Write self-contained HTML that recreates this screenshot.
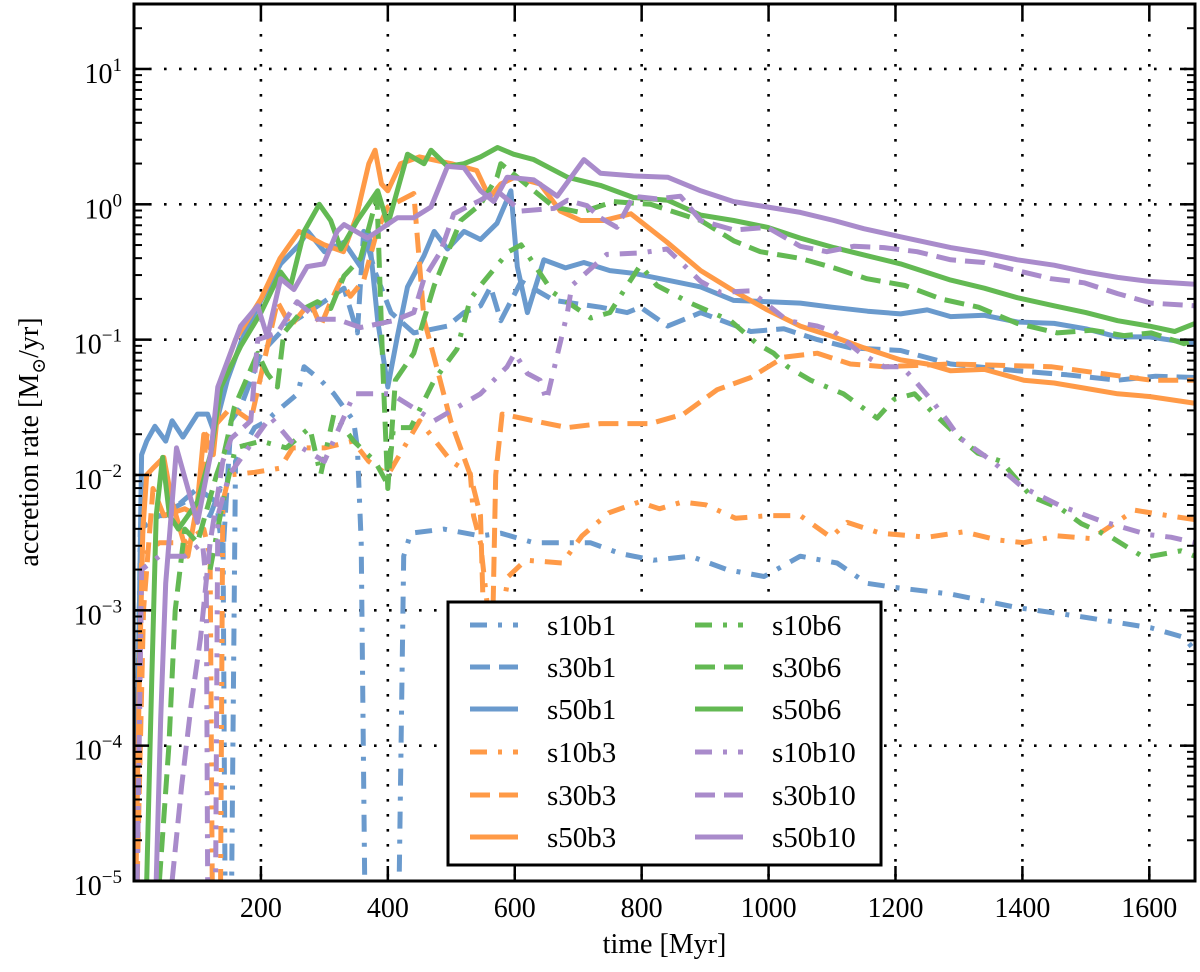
<!DOCTYPE html>
<html><head><meta charset="utf-8">
<style>
html,body{margin:0;padding:0;background:#fff;width:1200px;height:972px;overflow:hidden;}
svg{display:block;font-family:"Liberation Serif","DejaVu Serif",serif;}
</style></head>
<body>
<svg id="chart" width="1200" height="972" viewBox="0 0 1200 972" xmlns="http://www.w3.org/2000/svg">
<defs><clipPath id="plotclip"><rect x="134" y="4" width="1061" height="877"/></clipPath></defs>
<rect x="0" y="0" width="1200" height="972" fill="#fff"/>
<g id="grid"></g>
<g id="series" clip-path="url(#plotclip)"></g>
<g id="axes"></g>
<g id="legend"></g>
</svg>
<script>
// ---- axis tick values ----
const xTicks = [200,400,600,800,1000,1200,1400,1600];
const yTickExps = [1,0,-1,-2,-3,-4,-5];
const xLabel = "time [Myr]";
// ---- series data: time [Myr] and log10(accretion rate [Msun/yr]) ----
const t_s10b1 = [4,10,40,80,120,136,140,146,150,160,190,210,220,258,268,294,315,346,352,358,368,412,425,436,488,546,578,630,719,766,819,877,935,993,1050,1108,1155,1197,1287,1392,1497,1603,1655,1672];
const v_s10b1 = [-5,-2.4,-2.3,-2.2,-2.3,-2.1,-2.2,-7,-7,-1.9,-1.65,-1.6,-1.55,-1.4,-1.2,-1.3,-1.4,-1.6,-1.8,-2.5,-7,-7,-2.6,-2.43,-2.4,-2.45,-2.43,-2.5,-2.5,-2.58,-2.63,-2.6,-2.7,-2.75,-2.6,-2.65,-2.8,-2.83,-2.88,-2.98,-3.05,-3.13,-3.2,-3.3];
const t_s30b1 = [3,8,15,50,100,130,140,153,168,200,240,290,331,352,362,380,405,441,494,520,546,562,578,610,662,735,777,798,841,893,972,1024,1077,1129,1208,1287,1392,1470,1550,1610,1672];
const v_s30b1 = [-5,-3,-2.3,-2.3,-2.1,-2.2,-2.6,-1.6,-1.5,-1.1,-0.9,-0.75,-0.62,-0.95,-0.2,-0.5,-0.8,-0.95,-0.9,-0.8,-0.75,-0.61,-0.86,-0.57,-0.71,-0.76,-0.8,-0.76,-0.9,-0.8,-0.94,-0.92,-1.0,-1.06,-1.08,-1.18,-1.23,-1.26,-1.3,-1.27,-1.28];
const t_s50b1 = [2,6,12,20,33,50,60,77,100,116,126,147,170,200,231,260,274,300,331,357,370,384,400,415,431,457,473,494,520,546,572,594,604,620,646,680,709,750,787,840,893,945,1000,1050,1100,1156,1208,1250,1287,1340,1392,1450,1500,1550,1600,1672];
const v_s50b1 = [-5,-3.8,-1.85,-1.75,-1.64,-1.75,-1.6,-1.72,-1.55,-1.55,-1.68,-1.3,-1.0,-0.71,-0.44,-0.3,-0.2,-0.35,-0.28,-0.46,-0.21,-0.86,-1.35,-0.98,-0.61,-0.38,-0.2,-0.33,-0.2,-0.26,-0.14,0.1,-0.46,-0.8,-0.41,-0.47,-0.43,-0.49,-0.51,-0.56,-0.61,-0.71,-0.72,-0.73,-0.76,-0.79,-0.81,-0.78,-0.83,-0.82,-0.87,-0.88,-0.92,-0.98,-0.98,-1.03];
const t_s10b3 = [5,12,40,80,110,120,126,134,140,150,190,230,250,300,345,370,400,450,500,530,535,546,556,570,590,617,675,706,748,796,828,864,901,948,1000,1050,1098,1124,1176,1250,1308,1360,1402,1455,1509,1577,1629,1672];
const v_s10b3 = [-5,-2.6,-2.5,-2.5,-2.4,-2.6,-7,-7,-2.2,-2.0,-1.98,-1.95,-1.8,-1.8,-1.75,-1.9,-2.0,-1.6,-1.9,-1.99,-2.3,-2.5,-2.93,-3.3,-2.75,-2.63,-2.65,-2.45,-2.28,-2.2,-2.25,-2.2,-2.22,-2.32,-2.3,-2.3,-2.46,-2.35,-2.43,-2.46,-2.42,-2.48,-2.5,-2.45,-2.47,-2.26,-2.3,-2.33];
const t_s30b3 = [5,15,30,47,80,100,115,153,184,226,247,278,294,310,326,341,362,383,400,441,457,478,499,530,546,556,562,570,580,630,683,735,814,866,919,972,1024,1077,1129,1182,1287,1445,1603,1672];
const v_s30b3 = [-5,-3,-2.1,-2.3,-2.25,-2.3,-1.7,-1.5,-1.6,-0.72,-0.9,-0.72,-0.9,-0.72,-0.56,-0.68,-0.56,-0.2,-0.02,0.08,-0.85,-1.22,-1.6,-2.0,-2.3,-3.9,-3.9,-2.0,-1.55,-1.6,-1.65,-1.62,-1.62,-1.55,-1.37,-1.28,-1.13,-1.1,-1.18,-1.2,-1.18,-1.2,-1.3,-1.3];
const t_s50b3 = [3,8,14,20,30,47,60,85,100,110,125,137,160,200,230,260,300,330,350,370,380,390,400,420,450,500,540,560,578,600,640,672,704,740,783,840,893,945,998,1050,1103,1150,1208,1250,1287,1340,1402,1450,1500,1550,1600,1672];
const v_s50b3 = [-5,-3.6,-2.4,-2.0,-1.95,-1.87,-2.2,-2.6,-2.2,-1.7,-1.85,-1.3,-1.0,-0.7,-0.4,-0.2,-0.3,-0.35,-0.1,0.3,0.4,0.15,0.1,0.3,0.35,0.3,0.25,0.05,0.15,0.2,0.15,-0.05,-0.12,-0.12,-0.07,-0.28,-0.49,-0.64,-0.78,-0.9,-0.98,-1.06,-1.15,-1.18,-1.23,-1.22,-1.3,-1.32,-1.36,-1.4,-1.42,-1.47];
const t_s10b6 = [120,140,160,200,240,277,294,315,346,380,400,409,436,473,509,530,546,590,610,660,720,750,777,798,824,877,940,982,1008,1030,1066,1118,1171,1198,1230,1257,1300,1330,1367,1414,1461,1493,1540,1592,1650,1672];
const v_s10b6 = [-2.7,-2.2,-1.8,-1.75,-1.8,-1.65,-2.0,-1.55,-1.75,-1.9,-2.07,-1.65,-1.65,-1.3,-1.07,-0.7,-0.6,-0.35,-0.3,-0.65,-0.84,-0.8,-0.6,-0.45,-0.6,-0.73,-0.86,-1.03,-1.1,-1.2,-1.3,-1.4,-1.58,-1.44,-1.4,-1.53,-1.72,-1.84,-1.9,-2.16,-2.25,-2.36,-2.46,-2.61,-2.56,-2.6];
const t_s30b6 = [40,55,65,80,100,130,142,158,195,210,226,236,268,289,310,331,357,383,392,400,412,441,473,515,546,572,578,620,662,704,756,814,893,945,987,1050,1103,1155,1215,1272,1331,1392,1455,1510,1560,1603,1655,1672];
const v_s30b6 = [-5,-4,-3,-2.4,-2.5,-2.0,-1.84,-1.5,-1.1,-1.25,-1.35,-0.95,-0.77,-0.72,-0.77,-0.53,-0.4,0.05,-1.2,-2.1,-1.3,-1.1,-0.6,-0.12,0.0,0.2,0.3,0.14,-0.02,-0.06,0.02,0.0,-0.12,-0.27,-0.35,-0.4,-0.47,-0.55,-0.6,-0.7,-0.76,-0.88,-0.95,-0.93,-0.97,-0.95,-1.03,-1.0];
const t_s50b6 = [20,28,35,45,56,70,100,121,137,168,200,231,247,268,292,310,326,352,384,400,431,457,468,494,520,546,573,598,630,683,735,787,841,893,945,998,1050,1103,1155,1208,1287,1340,1392,1450,1500,1550,1600,1640,1672];
const v_s50b6 = [-5,-3.5,-2.3,-1.87,-2.3,-2.4,-2.2,-1.84,-1.35,-1.05,-0.8,-0.5,-0.6,-0.2,0.0,-0.12,-0.33,-0.12,0.1,-0.15,0.37,0.3,0.4,0.28,0.3,0.35,0.42,0.37,0.33,0.2,0.14,0.05,0.03,-0.08,-0.12,-0.17,-0.25,-0.32,-0.38,-0.44,-0.56,-0.62,-0.69,-0.75,-0.8,-0.86,-0.9,-0.94,-0.88];
const t_s10b10 = [5,12,40,80,108,114,118,126,132,150,215,247,300,347,405,473,546,588,600,620,640,650,683,690,745,798,840,893,924,971,1030,1077,1103,1145,1182,1210,1230,1257,1282,1300,1326,1353,1400,1461,1524,1597,1634,1672];
const v_s10b10 = [-5,-2.7,-2.6,-2.6,-2.5,-2.8,-7,-7,-2.3,-2.0,-1.57,-1.75,-1.9,-1.4,-1.4,-1.6,-1.4,-1.2,-1.1,-1.25,-1.3,-1.45,-0.8,-0.6,-0.37,-0.36,-0.33,-0.57,-0.65,-0.64,-0.86,-0.9,-0.94,-1.1,-1.2,-1.2,-1.3,-1.45,-1.6,-1.72,-1.81,-1.9,-2.09,-2.23,-2.34,-2.44,-2.46,-2.5];
const t_s30b10 = [60,75,90,105,120,140,153,184,195,226,257,289,320,357,409,441,457,483,504,520,546,572,610,662,683,714,735,761,787,824,861,893,945,998,1050,1092,1134,1182,1234,1287,1340,1392,1445,1497,1550,1603,1672];
const v_s30b10 = [-5,-4.3,-3.7,-3.2,-2.5,-1.9,-1.73,-1.6,-1.0,-0.95,-0.72,-0.85,-0.85,-0.91,-0.86,-0.8,-0.55,-0.35,-0.07,-0.03,0.03,0.1,-0.05,-0.03,0.03,-0.01,-0.1,-0.17,0.06,0.04,0.06,-0.12,-0.19,-0.17,-0.31,-0.35,-0.31,-0.32,-0.35,-0.41,-0.43,-0.49,-0.55,-0.58,-0.66,-0.73,-0.75];
const t_s50b10 = [35,42,50,67,85,100,121,132,168,195,210,231,252,273,299,320,331,368,415,441,468,494,520,546,567,588,630,667,709,735,787,841,893,945,998,1050,1103,1150,1208,1287,1340,1392,1450,1500,1550,1600,1672];
const v_s50b10 = [-5,-3.8,-2.8,-1.8,-2.1,-2.35,-1.84,-1.35,-0.9,-0.75,-0.98,-0.55,-0.63,-0.46,-0.44,-0.2,-0.15,-0.25,-0.1,-0.1,-0.02,0.28,0.27,0.1,0.02,0.2,0.18,0.06,0.33,0.23,0.21,0.2,0.1,0.02,-0.02,-0.06,-0.12,-0.18,-0.24,-0.32,-0.36,-0.41,-0.45,-0.5,-0.54,-0.57,-0.59];
const seriesNames = ["s10b1","s30b1","s50b1","s10b3","s30b3","s50b3","s10b6","s30b6","s50b6","s10b10","s30b10","s50b10"];

(function(){
const NS="http://www.w3.org/2000/svg";
const L=134,R=1195,T=4,B=881;
const X0=0,X1=1672, YTOP=1.48, YBOT=-5;
function xs(t){return L+(t-X0)/(X1-X0)*(R-L);}
function ys(e){return T+(YTOP-e)/(YTOP-YBOT)*(B-T);}
function mk(tag,attrs,parent){const el=document.createElementNS(NS,tag);for(const k in attrs)el.setAttribute(k,attrs[k]);parent.appendChild(el);return el;}
const grid=document.getElementById('grid'),axes=document.getElementById('axes'),ser=document.getElementById('series'),leg=document.getElementById('legend');
const colors={b1:"#6a9acd",b3:"#ff9a47",b6:"#63b953",b10:"#a98bcb"};
const dashes={s10:"17,11,4,11",s30:"20,9",s50:"none"};
const dataT={s10b1:t_s10b1,s30b1:t_s30b1,s50b1:t_s50b1,s10b3:t_s10b3,s30b3:t_s30b3,s50b3:t_s50b3,s10b6:t_s10b6,s30b6:t_s30b6,s50b6:t_s50b6,s10b10:t_s10b10,s30b10:t_s30b10,s50b10:t_s50b10};
const dataV={s10b1:v_s10b1,s30b1:v_s30b1,s50b1:v_s50b1,s10b3:v_s10b3,s30b3:v_s30b3,s50b3:v_s50b3,s10b6:v_s10b6,s30b6:v_s30b6,s50b6:v_s50b6,s10b10:v_s10b10,s30b10:v_s30b10,s50b10:v_s50b10};
xTicks.forEach(t=>{const g=mk('line',{x1:xs(t),x2:xs(t),y1:T,y2:B,stroke:"#000","stroke-width":2.6,"stroke-dasharray":"2.6,12.4"},grid);

});
yTickExps.forEach(e=>{if(e<=YBOT)return;const g=mk('line',{x1:L,x2:R,y1:ys(e),y2:ys(e),stroke:"#000","stroke-width":2.6,"stroke-dasharray":"2.6,12.4"},grid);

});
seriesNames.forEach(n=>{
  const s=n.slice(0,3), b=n.slice(3);
  const tt=dataT[n], vv=dataV[n], m=Math.min(tt.length,vv.length);
  const pts=[];for(let i=0;i<m;i++)pts.push(xs(tt[i]).toFixed(1)+","+ys(vv[i]).toFixed(1));
  const p=mk('polyline',{points:pts.join(" "),fill:"none",stroke:colors[b],"stroke-width":5,"stroke-linejoin":"round","stroke-linecap":"butt"},ser);
  if(dashes[s]!=="none")p.setAttribute('stroke-dasharray',dashes[s]);
  
  
});
const fr=mk('rect',{x:L,y:T,width:R-L,height:B-T,fill:"none",stroke:"#000","stroke-width":3},axes);


xTicks.forEach(t=>{const x=xs(t);
 mk('line',{x1:x,x2:x,y1:B,y2:B-15,stroke:"#000","stroke-width":2.5},axes);
 mk('line',{x1:x,x2:x,y1:T,y2:T+15,stroke:"#000","stroke-width":2.5},axes);
 const tx=mk('text',{x:x,y:917,"font-size":28,"text-anchor":"middle",fill:"#000"},axes);tx.textContent=String(t);
 
 
});
for(let e=-5;e<=1;e++){
 const y=ys(e);
 mk('line',{x1:L,x2:L+15,y1:y,y2:y,stroke:"#000","stroke-width":2.5},axes);
 mk('line',{x1:R,x2:R-15,y1:y,y2:y,stroke:"#000","stroke-width":2.5},axes);
 for(let k=2;k<=9;k++){const ee=e+Math.log10(k);if(ee>YTOP)break;const yy=ys(ee);
  mk('line',{x1:L,x2:L+8,y1:yy,y2:yy,stroke:"#000","stroke-width":2},axes);
  mk('line',{x1:R,x2:R-8,y1:yy,y2:yy,stroke:"#000","stroke-width":2},axes);}
}
yTickExps.forEach(e=>{const y=ys(e);
 const tx=mk('text',{x:122,y:y+14,"font-size":28,"text-anchor":"end",fill:"#000"},axes);
 const a=mk('tspan',{},tx);a.textContent="10";
 const b=mk('tspan',{dy:-12,"font-size":19},tx);b.textContent=(e<0?"\u2212"+(-e):String(e));
 
 
});
const xl=mk('text',{x:(L+R)/2,y:953,"font-size":28,"text-anchor":"middle",fill:"#000"},axes);xl.textContent=xLabel;


const yl=mk('text',{x:0,y:0,"font-size":28,"text-anchor":"middle",fill:"#000",transform:"translate(38,442) rotate(-90)"},axes);
const y1=mk('tspan',{},yl);y1.textContent="accretion rate [M";
const y2=mk('tspan',{dy:7,"font-size":19},yl);y2.textContent="\u2299";
const y3=mk('tspan',{dy:-7},yl);y3.textContent="/yr]";


const lb=mk('rect',{x:448,y:602,width:433,height:263,fill:"#fff",stroke:"#000","stroke-width":3},leg);


const rows=[625,667,709,752,795,837];
seriesNames.forEach((n,i)=>{
 const col=Math.floor(i/6),row=i%6;const s=n.slice(0,3),b=n.slice(3);
 const x0=col?695:470, y=rows[row];
 const g=mk('g',{},leg);
 
 
 const ln=mk('line',{x1:x0,x2:x0+48,y1:y,y2:y,stroke:colors[b],"stroke-width":5},g);
 if(dashes[s]!=="none")ln.setAttribute('stroke-dasharray',dashes[s]);
 const tx=mk('text',{x:col?772:547,y:y+10,"font-size":29,fill:"#000"},g);tx.textContent=n;
});
})();
</script>
</body></html>
